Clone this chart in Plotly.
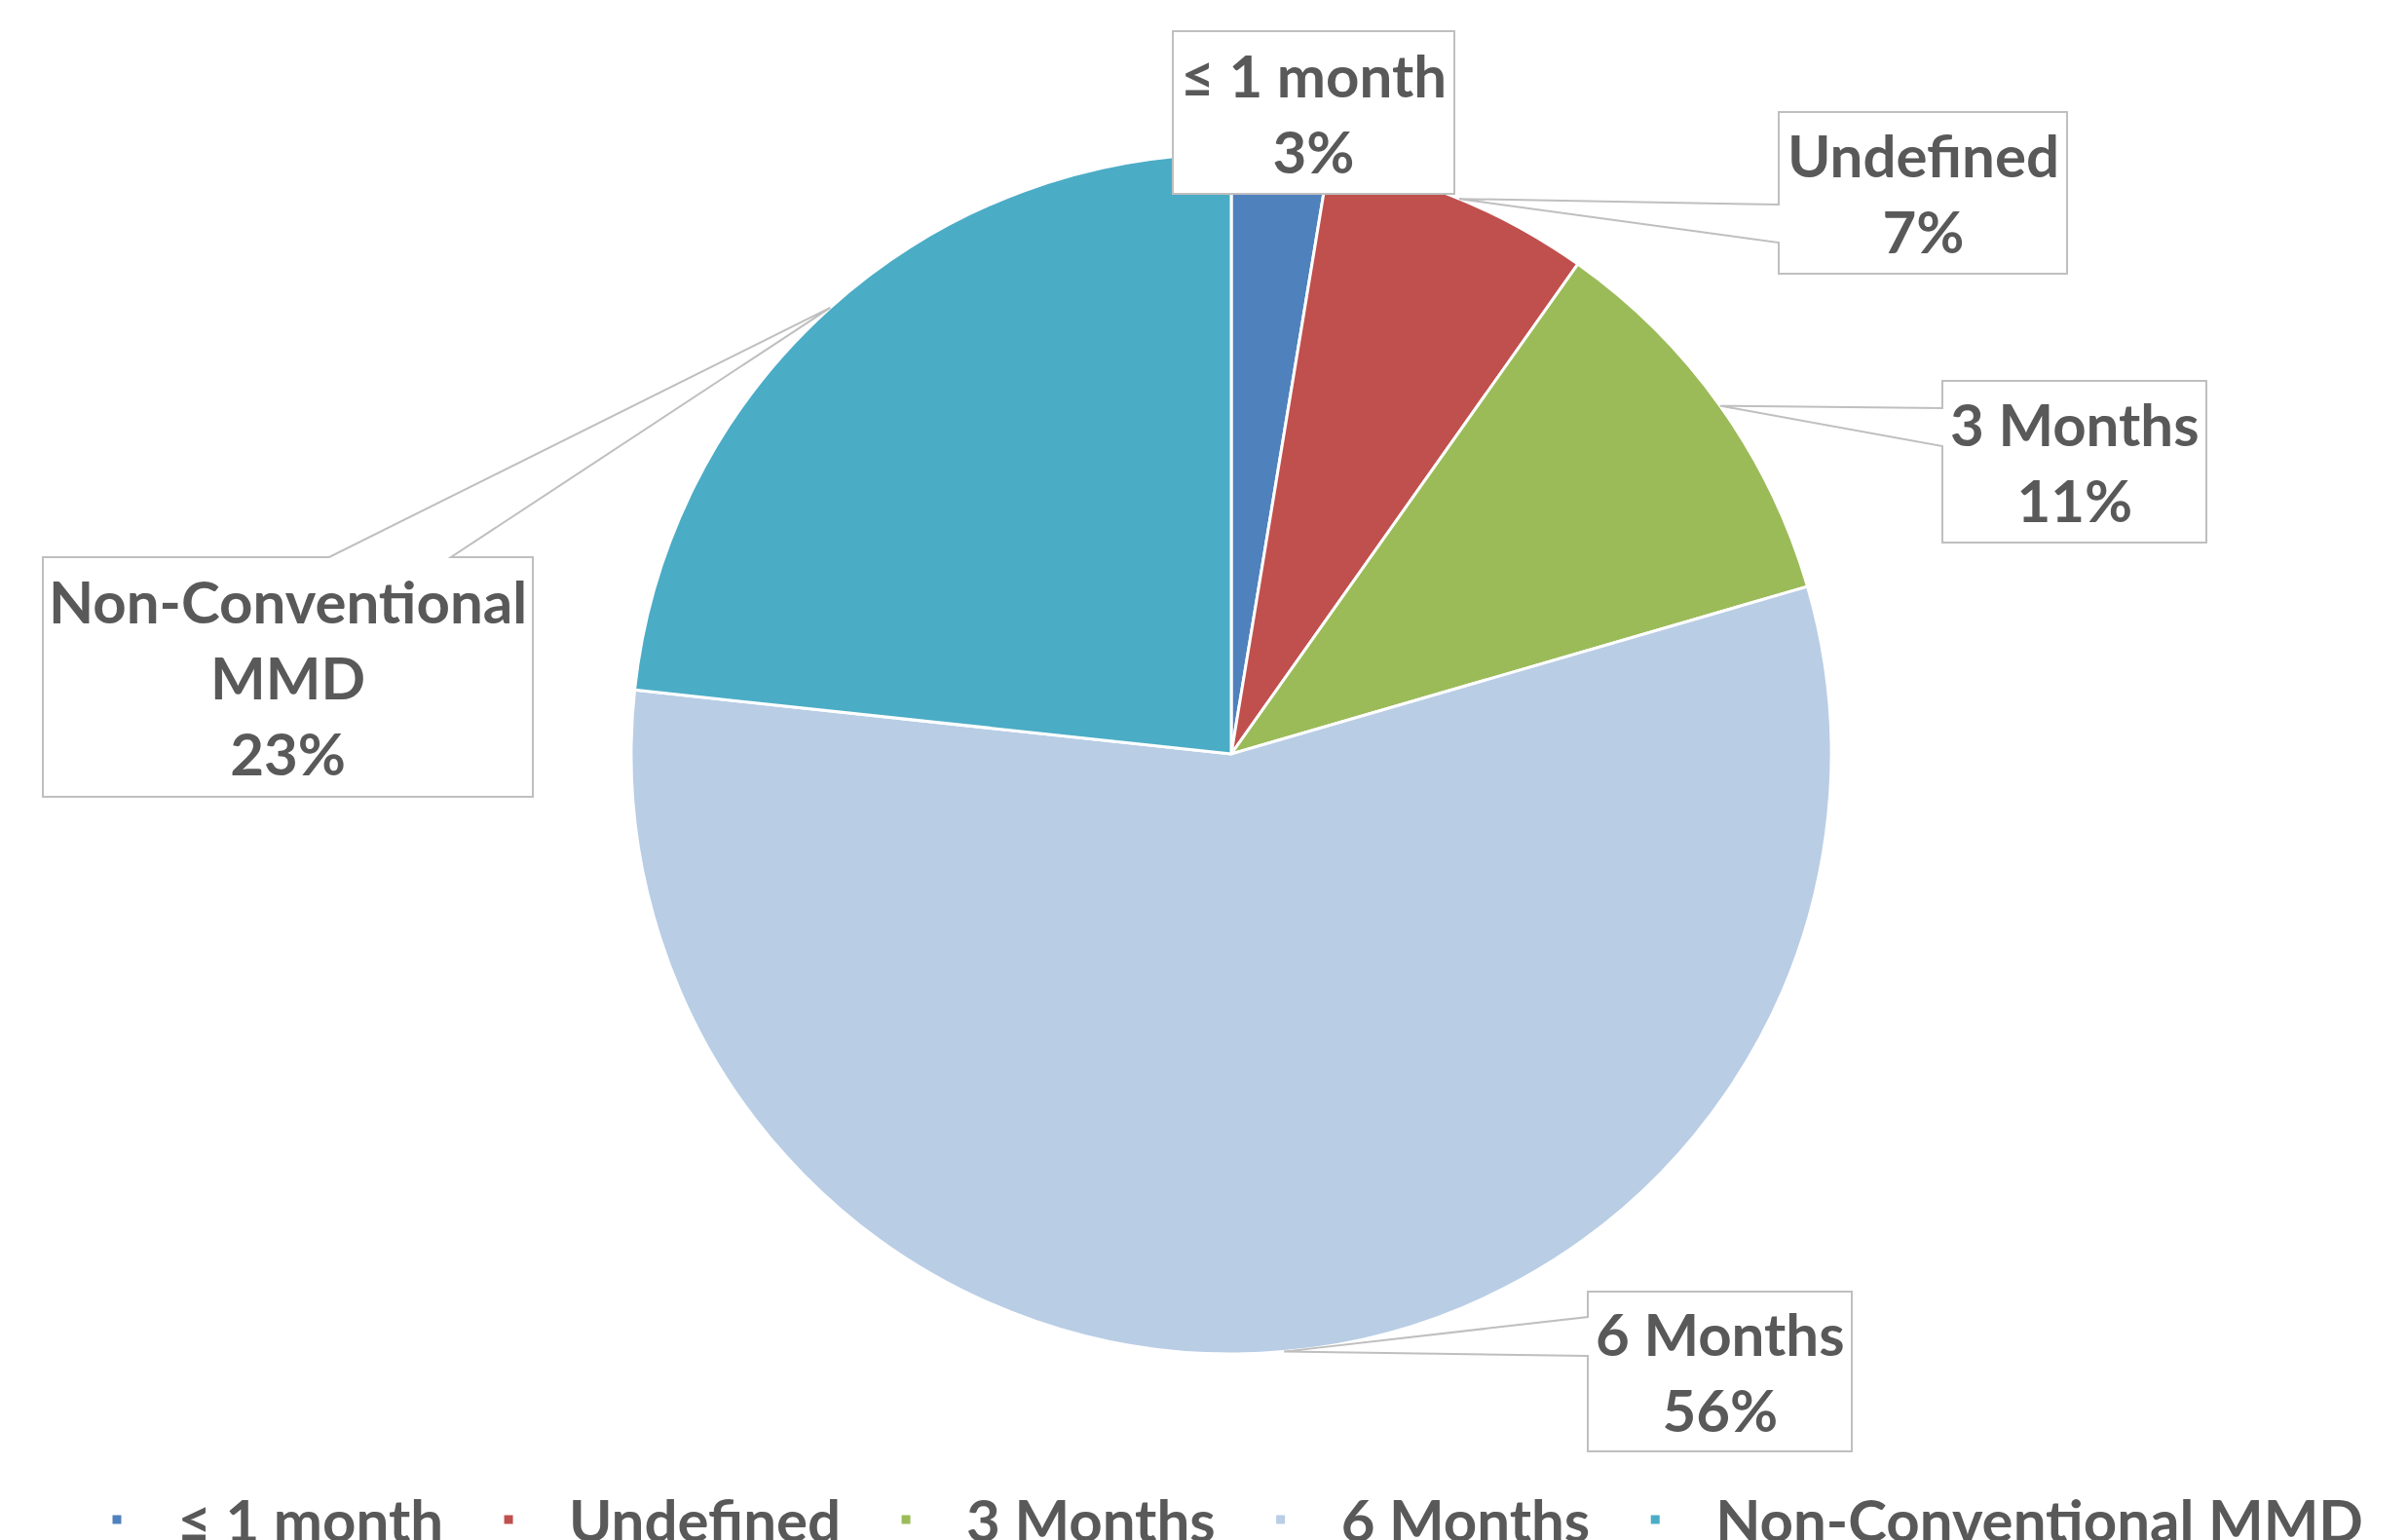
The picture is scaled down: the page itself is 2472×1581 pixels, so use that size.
import math
import plotly.graph_objects as go

# ---- data ----
categories = ["≤ 1 month", "Undefined", "3 Months", "6 Months", "Non-Conventional MMD"]
values = [2.6, 7.2, 10.7, 56.2, 23.3]
box_labels = ["≤ 1 month", "Undefined", "3 Months", "6 Months", "Non-Conventional<br>MMD"]
colors = ["#4F81BD", "#C0504D", "#9BBB59", "#B9CDE5", "#4BACC6"]

# ---- layout constants (screen pixels) ----
W, H = 2472, 1581
OFF = 8  # page body margin
CX, CY, R = 1264, 774, 616
TEXT = "#595959"
BORDER = "#BFBFBF"
FONT = "Lato"
FS = 60


def px(x):
    return (x - OFF) / W


def py(y):
    return 1 - (y - OFF) / H


# callout boxes: (x0, y0, x1, y1, pointer edge, attach a, attach b)
callouts = [
    (1204, 32, 1493, 199, None, None, None),
    (1826, 115, 2122, 281, "left", 210, 249),
    (1994, 391, 2265, 557, "left", 419, 458),
    (1630, 1326, 1901, 1490, "left", 1352, 1392),
    (44, 572, 547, 818, "top", 338, 463),
]

total = sum(values)
tips = []
cum = 0
for v in values:
    frac = (cum + v / 2) / total
    th = 2 * math.pi * frac
    tips.append((CX + R * math.sin(th), CY - R * math.cos(th)))
    cum += v

fig = go.Figure()
fig.add_trace(go.Pie(
    labels=categories,
    values=values,
    sort=False,
    direction="clockwise",
    rotation=0,
    textinfo="none",
    hoverinfo="label+percent",
    marker=dict(colors=colors, line=dict(color="white", width=3)),
    domain=dict(x=[px(CX - R), px(CX + R)], y=[py(CY + R), py(CY - R)]),
))

shapes = []
annotations = []
for i, (x0, y0, x1, y1, edge, a, b) in enumerate(callouts):
    tx, ty = tips[i]
    pts = [(x0, y0)]
    if edge == "top":
        pts += [(a, y0), (tx, ty), (b, y0)]
    pts += [(x1, y0), (x1, y1), (x0, y1)]
    if edge == "left":
        pts += [(x0, b), (tx, ty), (x0, a)]
    path = "M " + " L ".join(f"{px(x):.6f},{py(y):.6f}" for x, y in pts) + " Z"
    shapes.append(dict(type="path", xref="paper", yref="paper", path=path,
                       fillcolor="white", line=dict(color=BORDER, width=2), layer="above"))
    pct = round(values[i] / total * 100)
    annotations.append(dict(
        x=px((x0 + x1) / 2), y=py((y0 + y1) / 2), xref="paper", yref="paper",
        xanchor="center", yanchor="middle", showarrow=False, align="center",
        text=f"{box_labels[i]}<br>{pct}%",
        font=dict(family=FONT, size=FS, color=TEXT, weight="bold"),
    ))

fig.update_layout(
    width=W, height=H,
    margin=dict(l=0, r=0, t=0, b=0, autoexpand=False),
    paper_bgcolor="white", plot_bgcolor="white",
    shapes=shapes, annotations=annotations,
    showlegend=True,
    legend=dict(orientation="h", x=px(58), xanchor="left", y=py(1560), yanchor="middle",
                font=dict(family=FONT, size=FS, color=TEXT, weight="bold"),
                itemwidth=114, bgcolor="rgba(0,0,0,0)"),
)

fig.write_html("out.html")
